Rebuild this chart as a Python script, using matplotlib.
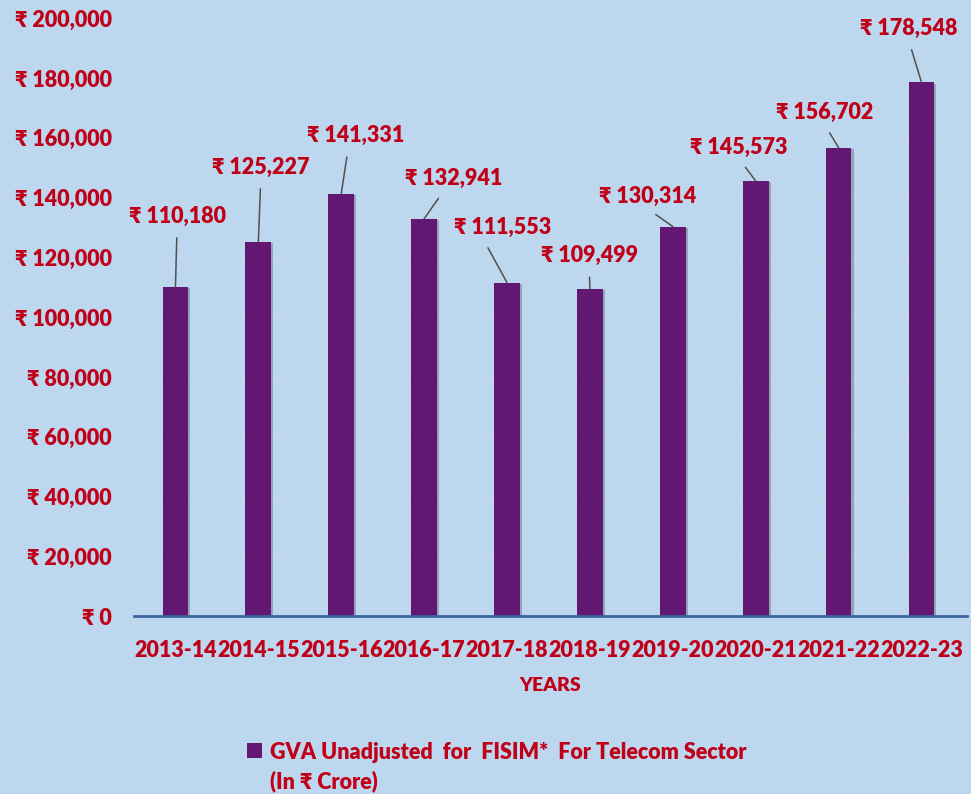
import matplotlib.pyplot as plt
from matplotlib.ticker import FuncFormatter
import matplotlib.patheffects as pe

years = ["2013-14", "2014-15", "2015-16", "2016-17", "2017-18",
         "2018-19", "2019-20", "2020-21", "2021-22", "2022-23"]
gva = [110180, 125227, 141331, 132941, 111553,
       109499, 130314, 145573, 156702, 178548]

# where the data labels sit (category offset, value)
label_dx = [0.02, 0.03, 0.17, 0.36, -0.05, -0.01, -0.30, -0.21, -0.17, -0.16]
label_y = [133800, 150200, 160800, 146500, 130100,
           120600, 140400, 156800, 168500, 196600]
# where the leader line leaves each label (fraction of label width)
lead_x = [0.5, 0.5, 0.43, 0.41, 0.29, 0.5, 0.47, 0.5, 0.49, 0.5]

bg = '#BDD7EE'
red = '#C00018'
purple = '#621873'
fonts = ['Lato', 'Noto Sans', 'DejaVu Sans']
fs = 15.5

plt.rcParams['font.family'] = fonts
plt.rcParams['font.weight'] = 'bold'

fig = plt.figure(figsize=(9.71, 7.94), dpi=100, facecolor=bg)
ax = fig.add_axes([0.138, 0.224, 0.858, 0.753])
ax.set_facecolor(bg)

x = list(range(len(years)))
bars = ax.bar(x, gva, width=0.31, color=purple, zorder=3)
for b in bars:
    b.set_path_effects([pe.SimplePatchShadow(offset=(1.5, -1), alpha=0.25), pe.Normal()])

for i, v in enumerate(gva):
    ax.annotate("₹ {:,}".format(v), xy=(i, v), xytext=(i + label_dx[i], label_y[i]),
                ha='center', va='center', color=red, fontsize=fs, fontweight='heavy',
                arrowprops=dict(arrowstyle='-', color='#505050', lw=1.1,
                                relpos=(lead_x[i], 0), shrinkA=6, shrinkB=0), zorder=4)

ax.set_xlim(-0.5, 9.55)
ax.set_ylim(0, 200000)
ax.set_yticks(range(0, 200001, 20000))
ax.yaxis.set_major_formatter(FuncFormatter(lambda v, p: "₹ {:,}".format(int(v))))
ax.set_xticks(x)
ax.set_xticklabels(years)
ax.tick_params(axis='both', length=0, labelcolor=red, labelsize=fs)
ax.tick_params(axis='x', pad=17)
ax.tick_params(axis='y', pad=16)
for lab in ax.get_xticklabels() + ax.get_yticklabels():
    lab.set_fontweight('heavy')

ax.grid(axis='y', color='#C6DDF1', lw=0.8, zorder=0)
for s in ['top', 'right', 'left']:
    ax.spines[s].set_visible(False)
ax.spines['bottom'].set_color('#3B64A0')
ax.spines['bottom'].set_linewidth(2)
ax.spines['bottom'].set_zorder(5)

ax.set_xlabel("YEARS", color=red, fontsize=14, fontweight='heavy', labelpad=12)

fig.patches.append(plt.Rectangle((0.2545, 0.0453), 0.0155, 0.0185, transform=fig.transFigure,
                                 facecolor=purple, edgecolor='none'))
fig.text(0.278, 0.034, "GVA Unadjusted  for  FISIM*  For Telecom Sector\n(In ₹ Crore)",
         color=red, fontsize=fs, fontweight='heavy', va='center', ha='left',
         linespacing=1.45)

fig.savefig("out.png", dpi=100, facecolor=bg)
